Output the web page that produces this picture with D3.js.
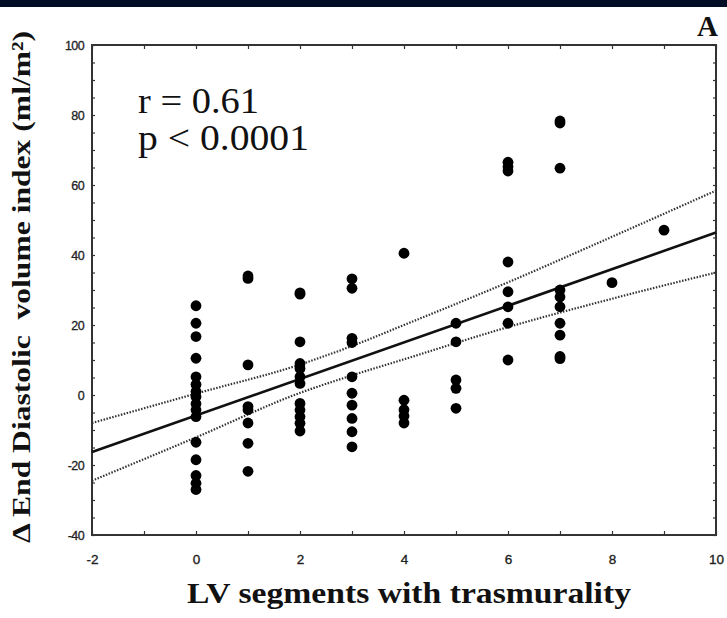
<!DOCTYPE html>
<html>
<head>
<meta charset="utf-8">
<script src="https://cdn.jsdelivr.net/npm/d3@7/dist/d3.min.js"></script>
<style>
  body { margin: 0; background: #fff; }
  svg { display: block; }
</style>
</head>
<body>
<svg id="chart" width="727" height="618"></svg>
<script>
// LV segments with transmurality (x) and change in end-diastolic volume index (y)
const segments = [0, 1, 2, 3, 4, 5, 6, 7, 8, 9];
const deltaEdvi = [
  [25.5, 20.5, 16.7, 10.5, 5.2, 3, 1, -0.5, -2.5, -4.3, -6.2, -13.5, -18.5, -23, -25.2, -27],
  [34, 33.3, 8.6, -3.3, -4.2, -8, -13.8, -21.8],
  [29.2, 28.8, 15.2, 9, 7.6, 5.2, 3.3, -2.4, -4.3, -6.2, -8.1, -10.3],
  [33.2, 30.5, 16.2, 15, 5.2, 0.5, -2.9, -6.7, -10.5, -14.8],
  [40.5, -1.5, -4.2, -6, -8],
  [20.5, 15.2, 4.3, 1.9, -3.8],
  [66.5, 65.2, 64, 38, 29.5, 25.2, 20.5, 10],
  [78.3, 77.7, 64.8, 30, 28, 25.2, 20.5, 17.1, 11, 10.4],
  [32.1],
  [47.1]
];

// Regression line and its confidence band
const fitX = [-2, 10];
const fitY = [-16.3, 46.4];
const bandX = [-2, 0, 2, 3, 4, 6, 8, 10];
const bandUpper = [-8, 0.4, 8.7, 14, 20, 32.2, 45.2, 58.4];
const bandLower = [-24.5, -12.1, 0.6, 5.6, 10.2, 19.4, 27.5, 35];

// Axis ticks
const xTickLabels = [-2, 0, 2, 4, 6, 8, 10];
const xMinorTicks = d3.range(-2, 10.01, 1);
const yTickLabels = [-40, -20, 0, 20, 40, 60, 80, 100];
const yMinorTicks = d3.range(-40, 100.01, 5);

const statsLines = ["r = 0.61", "p < 0.0001"];
const panelLabel = "A";
const xTitle = "LV segments with trasmurality";
const yTitle = "\u0394 End Diastolic  volume index (ml/m\u00B2)";

const svg = d3.select("#chart");
const W = 727, H = 618;
const plot = { left: 92, right: 716, top: 45, bottom: 535 };

svg.append("rect").attr("width", W).attr("height", H).attr("fill", "#fff");
svg.append("rect").attr("width", W).attr("height", 7).attr("fill", "#010d24");

const x = d3.scaleLinear().domain([-2, 10]).range([plot.left, plot.right]);
const y = d3.scaleLinear().domain([-40, 100]).range([plot.bottom, plot.top]);

const axisColor = "#333";
const plainNumber = d => String(d);

// inward minor ticks on all four sides
function tickAxis(axisGen, transform) {
  const g = svg.append("g").attr("transform", transform).call(axisGen);
  g.select(".domain").remove();
  g.selectAll("line").attr("stroke", axisColor).attr("stroke-width", 1.2);
  g.selectAll("text").remove();
  return g;
}
tickAxis(d3.axisBottom(x).tickValues(xMinorTicks).tickSize(-4), `translate(0,${plot.bottom})`);
tickAxis(d3.axisTop(x).tickValues(xMinorTicks).tickSize(-4), `translate(0,${plot.top})`);
tickAxis(d3.axisLeft(y).tickValues(yMinorTicks).tickSize(-3), `translate(${plot.left},0)`);
tickAxis(d3.axisRight(y).tickValues(yMinorTicks).tickSize(-3), `translate(${plot.right},0)`);

// tick labels
const xLab = svg.append("g").attr("transform", `translate(0,${plot.bottom})`)
  .call(d3.axisBottom(x).tickValues(xTickLabels).tickFormat(plainNumber).tickSize(0).tickPadding(19));
xLab.select(".domain").remove();
xLab.selectAll("text")
  .attr("font-family", "'Liberation Sans', Arial, sans-serif")
  .attr("font-size", 13.5).attr("fill", "#222")
  .attr("stroke", "#222").attr("stroke-width", 0.35);

const yLab = svg.append("g").attr("transform", `translate(${plot.left},0)`)
  .call(d3.axisLeft(y).tickValues(yTickLabels).tickFormat(plainNumber).tickSize(0).tickPadding(8));
yLab.select(".domain").remove();
yLab.selectAll("text")
  .attr("font-family", "'Liberation Sans', Arial, sans-serif")
  .attr("font-size", 12.5).attr("fill", "#222")
  .attr("stroke", "#222").attr("stroke-width", 0.3)
  .attr("letter-spacing", -0.6);

// frame
svg.append("rect")
  .attr("x", plot.left).attr("y", plot.top)
  .attr("width", plot.right - plot.left).attr("height", plot.bottom - plot.top)
  .attr("fill", "none").attr("stroke", axisColor).attr("stroke-width", 2);

// confidence band (dotted)
const bandLine = d3.line().x(d => x(d[0])).y(d => y(d[1])).curve(d3.curveMonotoneX);
[bandUpper, bandLower].forEach(vals => {
  svg.append("path")
    .attr("d", bandLine(bandX.map((v, i) => [v, vals[i]])))
    .attr("fill", "none").attr("stroke", "#333")
    .attr("stroke-width", 2.2).attr("stroke-dasharray", "1.5,1.5");
});

// regression line
svg.append("path")
  .attr("d", d3.line().x(d => x(d[0])).y(d => y(d[1]))(fitX.map((v, i) => [v, fitY[i]])))
  .attr("fill", "none").attr("stroke", "#111").attr("stroke-width", 2.6);

// data points
const pts = segments.flatMap((s, i) => deltaEdvi[i].map(v => ({ s, v })));
svg.append("g").selectAll("circle").data(pts).join("circle")
  .attr("cx", d => x(d.s)).attr("cy", d => y(d.v)).attr("r", 5.4)
  .attr("fill", "#000");

// correlation stats
svg.append("g").selectAll("text").data(statsLines).join("text")
  .attr("x", 138).attr("y", (d, i) => 113 + i * 37)
  .attr("font-family", "'Liberation Serif', 'Times New Roman', serif")
  .attr("font-size", 35).attr("fill", "#111")
  .attr("textLength", (d, i) => i === 0 ? 121 : 171)
  .attr("lengthAdjust", "spacingAndGlyphs")
  .text(d => d);

// panel label
svg.append("text")
  .attr("x", 718).attr("y", 36).attr("text-anchor", "end")
  .attr("font-family", "'Liberation Serif', 'Times New Roman', serif")
  .attr("font-weight", "bold").attr("font-size", 29).attr("fill", "#111")
  .text(panelLabel);

// axis titles
svg.append("text")
  .attr("x", 409).attr("y", 603).attr("text-anchor", "middle")
  .attr("font-family", "'Liberation Serif', 'Times New Roman', serif")
  .attr("font-weight", "bold").attr("font-size", 30).attr("fill", "#111")
  .attr("textLength", 444).attr("lengthAdjust", "spacingAndGlyphs")
  .text(xTitle);

svg.append("text")
  .attr("transform", "translate(30,287) rotate(-90)")
  .attr("text-anchor", "middle")
  .style("white-space", "pre")
  .attr("font-family", "'Liberation Serif', 'Times New Roman', serif")
  .attr("font-weight", "bold").attr("font-size", 26).attr("fill", "#111")
  .attr("textLength", 512).attr("lengthAdjust", "spacingAndGlyphs")
  .text(yTitle);
</script>
</body>
</html>
